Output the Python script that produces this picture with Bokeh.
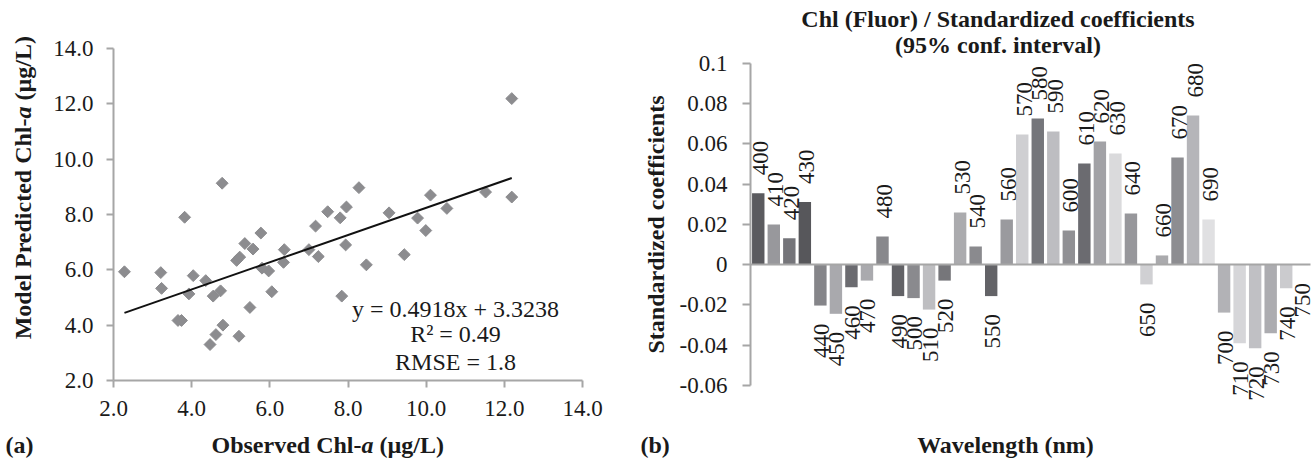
import math
from bokeh.plotting import figure
from bokeh.models import ColumnDataSource, Range1d, FixedTicker, Label, LabelSet
from bokeh.core.properties import value
from bokeh.layouts import row
from bokeh.embed import file_html
from bokeh.resources import INLINE

# ---------------- data: panel (a) ----------------
observed = [2.28, 3.21, 3.23, 3.82, 3.65, 3.74, 3.93, 4.04, 4.36, 4.55, 4.74, 4.47,
            4.62, 4.80, 4.78, 5.21, 5.15, 5.23, 5.36, 5.49, 5.57, 5.77, 5.80, 5.97,
            6.05, 6.37, 6.35, 7.00, 7.17, 7.24, 7.48, 7.80, 7.96, 7.94, 7.84, 8.28,
            8.47, 9.05, 9.78, 9.99, 9.44, 10.11, 10.53, 11.52, 12.19, 12.19]
predicted = [5.93, 5.90, 5.33, 7.90, 4.17, 4.17, 5.13, 5.79, 5.61, 5.05, 5.24, 3.30,
             3.66, 4.00, 9.13, 3.60, 6.34, 6.46, 6.95, 4.64, 6.75, 7.33, 6.06, 5.96,
             5.21, 6.73, 6.27, 6.73, 7.58, 6.48, 8.10, 7.88, 8.27, 6.90, 5.05, 8.97,
             6.18, 8.06, 7.87, 7.42, 6.55, 8.70, 8.22, 8.81, 12.19, 8.63]
slope = 0.4918
intercept = 3.3238
r_squared = "0.49"
rmse = "1.8"
axis_ticks_a = [2, 4, 6, 8, 10, 12, 14]

# ---------------- data: panel (b) ----------------
wavelengths = ["400", "410", "420", "430", "440", "450", "460", "470", "480", "490",
               "500", "510", "520", "530", "540", "550", "560", "570", "580", "590",
               "600", "610", "620", "630", "640", "650", "660", "670", "680", "690",
               "700", "710", "720", "730", "740", "750"]
coefficients = [0.0354, 0.0199, 0.0131, 0.0310, -0.0204, -0.0245, -0.0113, -0.0080,
                0.0139, -0.0157, -0.0167, -0.0224, -0.0080, 0.0258, 0.0089, -0.0157,
                0.0224, 0.0646, 0.0725, 0.0661, 0.0169, 0.0502, 0.0611, 0.0552,
                0.0253, -0.0099, 0.0045, 0.0532, 0.0740, 0.0224, -0.0239, -0.0391,
                -0.0416, -0.0341, -0.0118, -0.0003]
bar_colors = ["#5b5b5f", "#98989c", "#75757a", "#57575b", "#858589", "#a9a9ad",
              "#6b6b70", "#aaaaae", "#88888c", "#626266", "#8a8a8e", "#bebec1",
              "#76767a", "#ababae", "#8a8a8e", "#636367", "#9a9a9e", "#cfcfd2",
              "#75767b", "#bdbdc1", "#909094", "#6b6b70", "#a2a2a6", "#dadadc",
              "#97979b", "#d0d0d3", "#aaaaad", "#8d8d91", "#b5b5b9", "#e0e0e2",
              "#b2b2b6", "#d6d6d9", "#c0c0c4", "#acacb0", "#cbcbce", "#cbcbce"]
coef_ticks = [-0.06, -0.04, -0.02, 0, 0.02, 0.04, 0.06, 0.08, 0.1]
coef_tick_labels = ["-0.06", "-0.04", "-0.02", "0", "0.02", "0.04", "0.06", "0.08", "0.1"]

FONT = "Liberation Serif"
AX = "#a6a6a6"
TXT = "#1a1a1a"
FS = "23px"
FSB = "24px"
H = 458
W1 = 625
W2 = 1314 - W1


def style_axis(ax, standoff, tick_out=7):
    ax.axis_line_color = AX
    ax.axis_line_width = 2
    ax.major_tick_line_color = AX
    ax.major_tick_line_width = 2
    ax.major_tick_in = 0
    ax.major_tick_out = tick_out
    ax.minor_tick_line_color = None
    ax.major_label_text_font = FONT
    ax.major_label_text_font_size = FS
    ax.major_label_text_color = TXT
    ax.major_label_standoff = standoff


def lab(p, x, y, text, angle=0, align="center", style="bold", size=FSB, baseline="middle"):
    p.add_layout(Label(x=x, y=y, text=text, angle=angle, text_align=align,
                       text_baseline=baseline, text_font=FONT, text_font_size=size,
                       text_font_style=style, text_color=TXT))


# ================= panel (a) =================
# page-pixel layout of the plot area: x 2..14 -> 113..582 px, y 2..14 -> 380..48 px
def XA(px):
    return 2 + (px - 113) * 12 / (582 - 113)


def YA(py):
    return 2 + (380 - py) * 12 / (380 - 48)


p1 = figure(width=W1, height=H, x_range=Range1d(XA(0), XA(W1)), y_range=Range1d(YA(H), YA(0)),
            output_backend="svg", toolbar_location=None,
            min_border_left=0, min_border_right=0, min_border_top=0, min_border_bottom=0)
p1.outline_line_color = None
p1.grid.visible = False
p1.background_fill_color = "white"
for ax, so in ((p1.xaxis[0], 13), (p1.yaxis[0], 13)):
    style_axis(ax, so)
    ax.fixed_location = 2
    ax.bounds = (2, 14)
    ax.ticker = FixedTicker(ticks=axis_ticks_a)
    ax.major_label_overrides = {t: f"{t:.1f}" for t in axis_ticks_a}

src_a = ColumnDataSource(dict(x=observed, y=predicted))
p1.scatter("x", "y", source=src_a, marker="square", angle=math.pi / 4, size=8.4,
           fill_color="#8c8c8f", line_color="#8c8c8f")

x0, x1 = min(observed), max(observed)
p1.line([x0, x1], [slope * x0 + intercept, slope * x1 + intercept],
        line_color="#111111", line_width=2)

lab(p1, XA(455), YA(308), f"y = {slope}x + {intercept}", style="normal", size=FSB)
lab(p1, XA(455), YA(333), f"R² = {r_squared}", style="normal", size=FSB)
lab(p1, XA(455), YA(361), f"RMSE = {rmse}", style="normal", size=FSB)

# x axis title (with italic "a")
lab(p1, XA(361), YA(444), "Observed Chl-", align="right")
lab(p1, XA(361), YA(444), "a", align="left", style="bold italic")
lab(p1, XA(379), YA(444), "(µg/L)", align="left")

# y axis title (rotated)
lab(p1, XA(22), YA(118), "Model Predicted Chl-", angle=math.pi / 2, align="right")
lab(p1, XA(22), YA(118), "a", angle=math.pi / 2, align="left", style="bold italic")
lab(p1, XA(22), YA(100), "(µg/L)", angle=math.pi / 2, align="left")

lab(p1, XA(5), YA(444), "(a)", align="left")

# ================= panel (b) =================
n = len(wavelengths)
BW = (1309 - 750) / n           # px per category
PYU = (385 - 63) / 0.16          # px per unit


def XB(px_page):
    return (px_page - 750) / BW - 0.5


def YB(py):
    return (264 - py) / PYU


p2 = figure(width=W2, height=H, x_range=Range1d(XB(W1), XB(1314)), y_range=Range1d(YB(H), YB(0)),
            output_backend="svg", toolbar_location=None,
            min_border_left=0, min_border_right=0, min_border_top=0, min_border_bottom=0)
p2.outline_line_color = None
p2.grid.visible = False

style_axis(p2.yaxis[0], 15, tick_out=8)
p2.yaxis[0].fixed_location = -0.5
p2.yaxis[0].bounds = (-0.06, 0.1)
p2.yaxis[0].ticker = FixedTicker(ticks=coef_ticks)
p2.yaxis[0].major_label_overrides = dict(zip(coef_ticks, coef_tick_labels))

xa = p2.xaxis[0]
style_axis(xa, 0, tick_out=0)
xa.fixed_location = 0
xa.bounds = (-0.5, n - 0.5 + 0.05)
xa.ticker = FixedTicker(ticks=[])
xa.major_label_text_font_size = "0px"

idx = list(range(n))
src_b = ColumnDataSource(dict(x=idx, top=coefficients, color=bar_colors, name=wavelengths))
p2.vbar(x="x", top="top", bottom=0, width=0.8, source=src_b, fill_color="color", line_color=None)

pos = [i for i in idx if coefficients[i] >= 0]
neg = [i for i in idx if coefficients[i] < 0]
src_pos = ColumnDataSource(dict(x=pos, y=[coefficients[i] for i in pos], name=[wavelengths[i] for i in pos]))
src_neg = ColumnDataSource(dict(x=neg, y=[coefficients[i] for i in neg], name=[wavelengths[i] for i in neg]))
for s, off, al, xo in ((src_pos, 18, "left", 2), (src_neg, -18, "right", 1)):
    p2.add_layout(LabelSet(x="x", y="y", text="name", source=s, angle=math.pi / 2,
                           y_offset=off, x_offset=xo, text_align=value(al), text_baseline=value("middle"),
                           text_font=value(FONT), text_font_size=value(FS), text_color=value(TXT)))

lab(p2, XB(997.5), YB(18.5), "Chl (Fluor) / Standardized coefficients")
lab(p2, XB(997.5), YB(44.5), "(95% conf. interval)")
lab(p2, XB(655), YB(224), "Standardized coefficients", angle=math.pi / 2)
lab(p2, XB(1005), YB(444), "Wavelength (nm)")
lab(p2, XB(640), YB(444), "(b)", align="left")

layout = row(p1, p2)
open("out.html", "w").write(file_html(layout, INLINE))
